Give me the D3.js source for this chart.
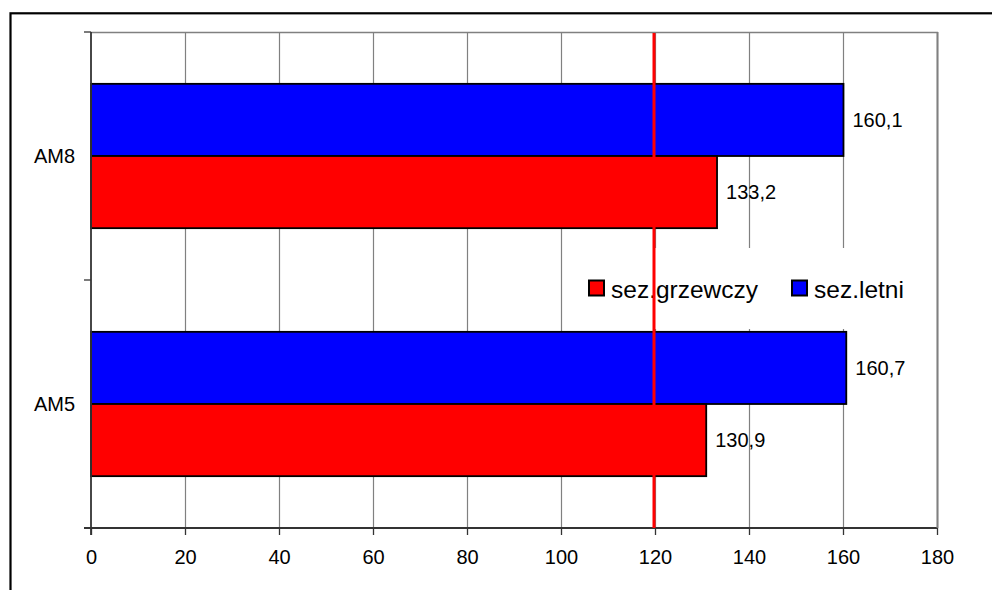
<!DOCTYPE html>
<html>
<head>
<meta charset="utf-8">
<script src="https://cdn.jsdelivr.net/npm/d3@7"></script>
<style>
  html, body { margin: 0; padding: 0; background: #fff; }
  svg { display: block; font-family: "Liberation Sans", Arial, sans-serif; }
</style>
</head>
<body>
<svg id="chart" width="992" height="590"></svg>
<script>
// Stations (top to bottom) and the two seasonal series
const categories = ["AM8", "AM5"];
const seriesNames = ["sez.letni", "sez.grzewczy"];      // drawing order inside each station
const legendNames = ["sez.grzewczy", "sez.letni"];      // legend order
const letniValues = [160.1, 160.7];
const grzewczyValues = [133.2, 130.9];
const xTicks = [0, 20, 40, 60, 80, 100, 120, 140, 160, 180];
const limitValue = 120;

const colors = { "sez.grzewczy": "#ff0000", "sez.letni": "#0000ff" };
const valueOf = {
  "sez.letni": letniValues,
  "sez.grzewczy": grzewczyValues
};
const fmt = v => d3.format(".1f")(v).replace(".", ",");

const svg = d3.select("#chart");
const plot = { left: 91, right: 937, top: 32, bottom: 528 };

// outer frame (left and top edges visible)
svg.append("rect")
  .attr("x", 10.5).attr("y", 13.3)
  .attr("width", 1100).attr("height", 1000)
  .attr("fill", "none").attr("stroke", "#000").attr("stroke-width", 2.2);

const x = d3.scaleLinear().domain([0, 180]).range([plot.left, plot.right]);
const y = d3.scaleBand().domain(categories)
  .range([plot.top, plot.bottom])
  .paddingInner(0.418).paddingOuter(0.209);
const ySeries = d3.scaleBand().domain(seriesNames).range([0, y.bandwidth()]);

// vertical gridlines
svg.append("g").selectAll("line")
  .data(xTicks.slice(1))
  .join("line")
  .attr("x1", d => x(d) + 0.5).attr("x2", d => x(d) + 0.5)
  .attr("y1", plot.top).attr("y2", plot.bottom)
  .attr("stroke", "#808080").attr("stroke-width", 1.2);

// plot-area top border
svg.append("line")
  .attr("x1", plot.left).attr("x2", plot.right + 1)
  .attr("y1", plot.top + 0.5).attr("y2", plot.top + 0.5)
  .attr("stroke", "#808080").attr("stroke-width", 1.5);

// bars
const groups = svg.append("g").selectAll("g")
  .data(categories)
  .join("g")
  .attr("transform", d => `translate(0,${y(d)})`);

groups.selectAll("rect")
  .data((c, i) => seriesNames.map(s => ({ s, v: valueOf[s][i] })))
  .join("rect")
  .attr("x", x(0))
  .attr("y", d => ySeries(d.s))
  .attr("width", d => x(d.v) - x(0))
  .attr("height", ySeries.bandwidth())
  .attr("fill", d => colors[d.s])
  .attr("stroke", "#000").attr("stroke-width", 1.8);

// value labels
groups.selectAll("text")
  .data((c, i) => seriesNames.map(s => ({ s, v: valueOf[s][i] })))
  .join("text")
  .attr("x", d => x(d.v) + 9)
  .attr("y", d => ySeries(d.s) + ySeries.bandwidth() / 2)
  .attr("dy", "0.36em")
  .attr("font-size", 20)
  .attr("fill", "#000")
  .text(d => fmt(d.v));

// bottom value axis
const xAxis = svg.append("g")
  .attr("transform", `translate(0,${plot.bottom})`)
  .call(d3.axisBottom(x).tickValues(xTicks).tickSize(7).tickPadding(15).tickFormat(d3.format("d")));
xAxis.select(".domain").attr("stroke", "#333").attr("stroke-width", 1.8)
  .attr("d", `M${plot.left - 7},0H${plot.right}`);
xAxis.selectAll(".tick line").attr("stroke", "#333").attr("stroke-width", 1.3);
xAxis.selectAll(".tick text")
  .attr("font-size", 20).attr("font-family", "Liberation Sans, Arial, sans-serif")
  .attr("fill", "#000");

// right border of the plot area
svg.append("line")
  .attr("x1", plot.right + 0.5).attr("x2", plot.right + 0.5)
  .attr("y1", plot.top).attr("y2", plot.bottom)
  .attr("stroke", "#808080").attr("stroke-width", 2);

// left category axis with boundary ticks
const boundaries = d3.range(categories.length + 1).map(i => plot.top + i * y.step());
svg.append("line")
  .attr("x1", plot.left).attr("x2", plot.left)
  .attr("y1", plot.top).attr("y2", plot.bottom + 7)
  .attr("stroke", "#333").attr("stroke-width", 1.8);
svg.append("g").selectAll("line")
  .data(boundaries)
  .join("line")
  .attr("x1", plot.left - 7).attr("x2", plot.left)
  .attr("y1", d => d).attr("y2", d => d)
  .attr("stroke", "#333").attr("stroke-width", 1.3);
svg.append("g").selectAll("text")
  .data(categories)
  .join("text")
  .attr("x", plot.left - 16)
  .attr("y", d => y(d) + y.bandwidth() / 2)
  .attr("dy", "0.36em")
  .attr("text-anchor", "end")
  .attr("font-size", 20)
  .attr("fill", "#000")
  .text(d => d);

// legend
const legend = svg.append("g");
legend.append("rect")
  .attr("x", 578).attr("y", 248).attr("width", 352).attr("height", 81)
  .attr("fill", "#fff");
const legendX = { "sez.grzewczy": 589, "sez.letni": 792 };
legendNames.forEach(name => {
  legend.append("rect")
    .attr("x", legendX[name]).attr("y", 280.5)
    .attr("width", 15).attr("height", 15)
    .attr("fill", colors[name]).attr("stroke", "#000").attr("stroke-width", 2);
  legend.append("text")
    .attr("x", legendX[name] + 22).attr("y", 297.5)
    .attr("font-size", 24.5).attr("fill", "#000")
    .text(name);
});

// limit line at 120
svg.append("line")
  .attr("x1", x(limitValue) - 1).attr("x2", x(limitValue) - 1)
  .attr("y1", plot.top + 1).attr("y2", plot.bottom)
  .attr("stroke", "#ff0000").attr("stroke-width", 3);
</script>
</body>
</html>
